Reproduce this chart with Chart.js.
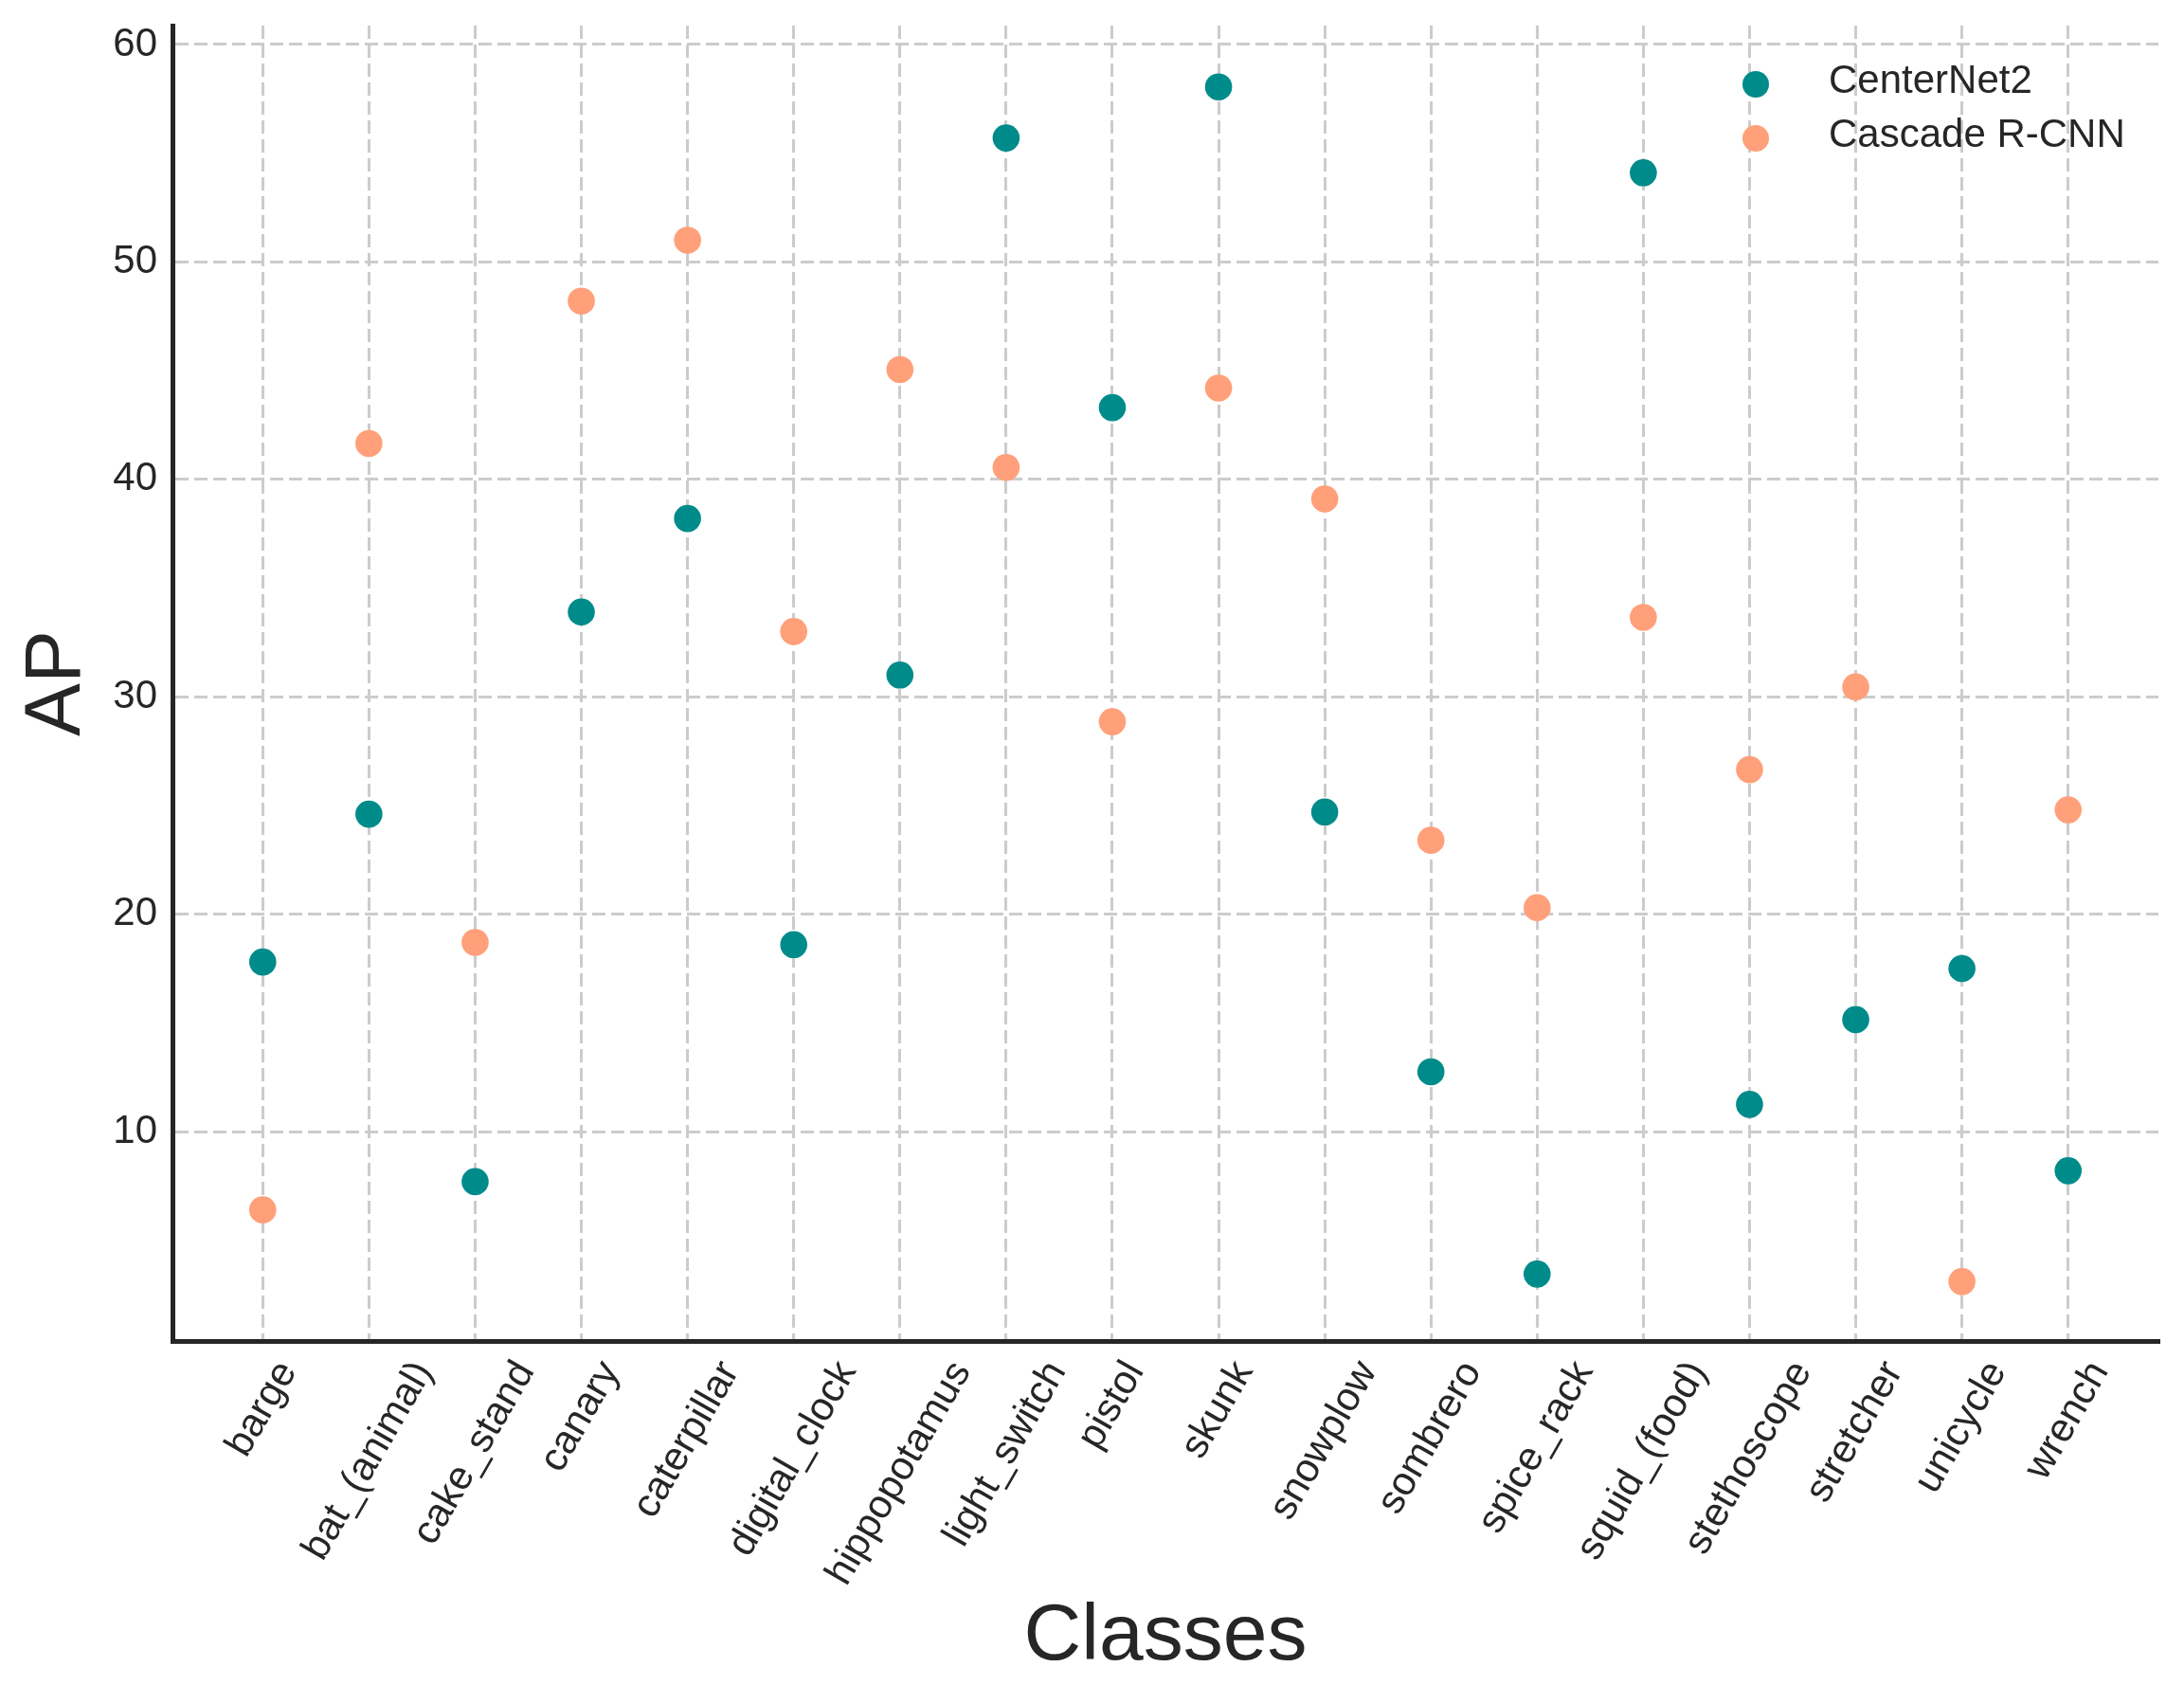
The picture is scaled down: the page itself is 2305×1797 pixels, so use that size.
<!DOCTYPE html>
<html>
<head>
<meta charset="utf-8">
<title>AP per class</title>
<script src="https://cdn.jsdelivr.net/npm/chart.js@4.4.1/dist/chart.umd.min.js"></script>
<style>
    html, body { margin: 0; padding: 0; background: #ffffff; }
    #chart { display: block; }
</style>
</head>
<body>
<canvas id="chart" width="2305" height="1797"></canvas>
<script>
const classes = ['barge', 'bat_(animal)', 'cake_stand', 'canary', 'caterpillar', 'digital_clock',
    'hippopotamus', 'light_switch', 'pistol', 'skunk', 'snowplow', 'sombrero', 'spice_rack',
    'squid_(food)', 'stethoscope', 'stretcher', 'unicycle', 'wrench'];
const centerNet2 = [17.8, 24.6, 7.7, 33.9, 38.2, 18.6, 31.0, 55.7, 43.3, 58.05, 24.7, 12.75, 3.45, 54.1, 11.25, 15.15, 17.5, 8.2];
const cascadeRCNN = [6.4, 41.65, 18.7, 48.2, 51.0, 33.0, 45.05, 40.55, 28.85, 44.2, 39.1, 23.4, 20.3, 33.65, 26.65, 30.45, 3.1, 24.8];
const yTicks = [10, 20, 30, 40, 50, 60];

(() => {
    'use strict';

    const FONT = '"Liberation Sans", Arial, Helvetica, sans-serif';
    const TEXT = '#262626';
    const TEAL = '#008b8b';
    const SALMON = '#ffa07a';

    // matplotlib style rotated labels: rotated bbox centred under the tick
    const rotatedLabels = {
        id: 'rotatedLabels',
        afterDraw(chart) {
            const ctx = chart.ctx;
            const xs = chart.scales.x;
            const size = 42;
            const a = 0.73 * size, d = 0.21 * size;
            const c = Math.cos(Math.PI / 3), s = Math.sin(Math.PI / 3);
            const y0 = chart.chartArea.bottom + 16;
            ctx.save();
            ctx.font = `${size}px ${FONT}`;
            ctx.fillStyle = TEXT;
            ctx.textAlign = 'left';
            ctx.textBaseline = 'alphabetic';
            classes.forEach((label, i) => {
                const L = ctx.measureText(label).width;
                const cx = (c * L + s * (d - a)) / 2;
                const tx = xs.getPixelForValue(i) - cx;
                const ty = y0 + s * L + c * a;
                ctx.save();
                ctx.translate(tx, ty);
                ctx.rotate(-Math.PI / 3);
                ctx.fillText(label, 0, 0);
                ctx.restore();
            });
            ctx.restore();
        }
    };

    const cornerLegend = {
        id: 'cornerLegend',
        afterDraw(chart) {
            const ctx = chart.ctx;
            const area = chart.chartArea;
            const mx = area.right - 425;
            ctx.save();
            ctx.font = `42px ${FONT}`;
            ctx.textAlign = 'left';
            ctx.textBaseline = 'middle';
            chart.data.datasets.forEach((ds, i) => {
                const my = area.top + 62 + i * 57;
                ctx.beginPath();
                ctx.arc(mx, my, 14, 0, Math.PI * 2);
                ctx.fillStyle = ds.backgroundColor;
                ctx.fill();
                ctx.fillStyle = TEXT;
                ctx.fillText(ds.label, mx + 77, my - 3);
            });
            ctx.restore();
        }
    };

    const toPoints = values => values.map((v, i) => ({ x: i, y: v }));

    new Chart(document.getElementById('chart').getContext('2d'), {
        type: 'scatter',
        data: {
            datasets: [
                { label: 'CenterNet2', data: toPoints(centerNet2), backgroundColor: TEAL, pointRadius: 14.3, pointHoverRadius: 14.3, pointBorderWidth: 0 },
                { label: 'Cascade R-CNN', data: toPoints(cascadeRCNN), backgroundColor: SALMON, pointRadius: 14.3, pointHoverRadius: 14.3, pointBorderWidth: 0 }
            ]
        },
        options: {
            responsive: false,
            devicePixelRatio: 1,
            animation: false,
            layout: { padding: { top: 27, right: 27, left: 0, bottom: 0 } },
            plugins: {
                legend: { display: false },
                tooltip: { enabled: false }
            },
            scales: {
                x: {
                    type: 'linear',
                    min: -0.85,
                    max: 17.85,
                    afterBuildTicks: scale => { scale.ticks = classes.map((_, i) => ({ value: i })); },
                    afterFit: scale => { scale.height = 382; scale.paddingLeft = 0; scale.paddingRight = 0; },
                    ticks: { display: false },
                    grid: { color: '#cccccc', lineWidth: 3, drawTicks: false },
                    border: { color: TEXT, width: 5, dash: [14, 6] },
                    title: { display: true, text: 'Classes', color: TEXT, font: { family: FONT, size: 84 }, padding: { top: 0, bottom: 19 } }
                },
                y: {
                    min: 0.37,
                    max: 60.87,
                    afterBuildTicks: scale => { scale.ticks = yTicks.map(v => ({ value: v })); },
                    afterFit: scale => { scale.width = 182; scale.paddingTop = 0; scale.paddingBottom = 0; },
                    ticks: { color: TEXT, padding: 16, font: { family: FONT, size: 42 } },
                    grid: { color: '#cccccc', lineWidth: 3, drawTicks: false },
                    border: { color: TEXT, width: 5, dash: [14, 6] },
                    title: { display: true, text: 'AP', color: TEXT, font: { family: FONT, size: 84 }, padding: { top: 10, bottom: 0 } }
                }
            }
        },
        plugins: [rotatedLabels, cornerLegend]
    });
})();
</script>
</body>
</html>
